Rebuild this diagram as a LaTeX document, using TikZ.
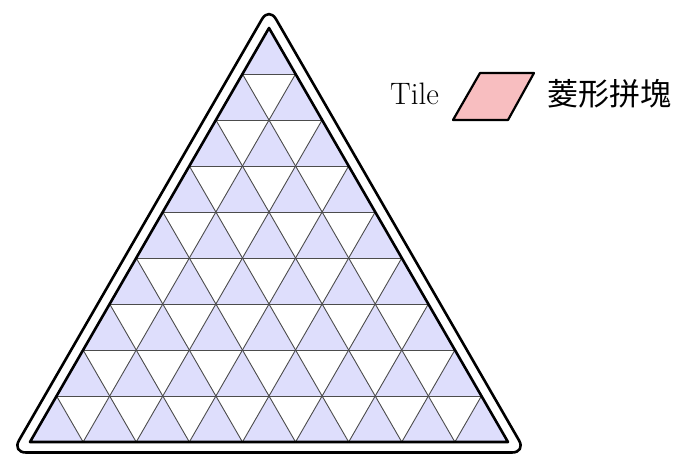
\documentclass[tikz,border=0pt]{standalone}
\usepackage{fontspec}
\newfontfamily\cjkfont{Noto Sans CJK TC}
\definecolor{cellblue}{RGB}{222,222,252}
\definecolor{tilepink}{RGB}{248,190,192}

\begin{document}
\begin{tikzpicture}[
  x=1pt, y=-1pt,
  upcell/.style  ={fill=cellblue, draw=none},
  gridline/.style={draw=black!70, line width=0.9pt},
  rim/.style     ={draw=black, line width=2.6pt, line join=round},
  tilebox/.style ={fill=tilepink, draw=black, line width=2.2pt, line join=round},
  lbl/.style     ={font=\fontsize{31}{34}\selectfont, inner sep=0pt},
]
\useasboundingbox (0,0) rectangle (690,457);
\def\side{53.111}\def\rowh{46}

% --- corners of the big triangle ---
\coordinate (apex) at (269,28);
\coordinate (bl) at (30,442);
\coordinate (br) at (508,442);

% --- shaded upward cells ---
\foreach \r in {0,...,8}{
  \foreach \k in {0,...,\r}{
    \fill[upcell] ({269+(\k-\r/2)*\side},{28+\r*\rowh}) -- ++(-\side/2,\rowh) -- ++(\side,0) -- cycle;
  }
}

% --- lattice lines ---
\foreach \r in {1,...,8}{
  \draw[gridline] ({269-\r*\side/2},{28+\r*\rowh}) -- ({269+\r*\side/2},{28+\r*\rowh});
  \draw[gridline] ({269+\r*\side/2},{28+\r*\rowh}) -- ({269+(\r-4.5)*\side},442);
  \draw[gridline] ({269-\r*\side/2},{28+\r*\rowh}) -- ({269+(4.5-\r)*\side},442);
}

% --- borders ---
\draw[rim] (apex) -- (bl) -- (br) -- cycle;
\draw[rim, rounded corners=14pt] (269,7) -- (12,452.5) -- (526,452.5) -- cycle;

% --- legend ---
\node[lbl, anchor=base west] (tilelabel) at (390,105) {Tile};
\draw[tilebox] (453,120) -- (508,120) -- (534,73) -- (480,73) -- cycle;
\node[lbl, font=\fontsize{31}{34}\selectfont\cjkfont, anchor=west] (tilename) at (547,94) {菱形拼塊};
\end{tikzpicture}
\end{document}
